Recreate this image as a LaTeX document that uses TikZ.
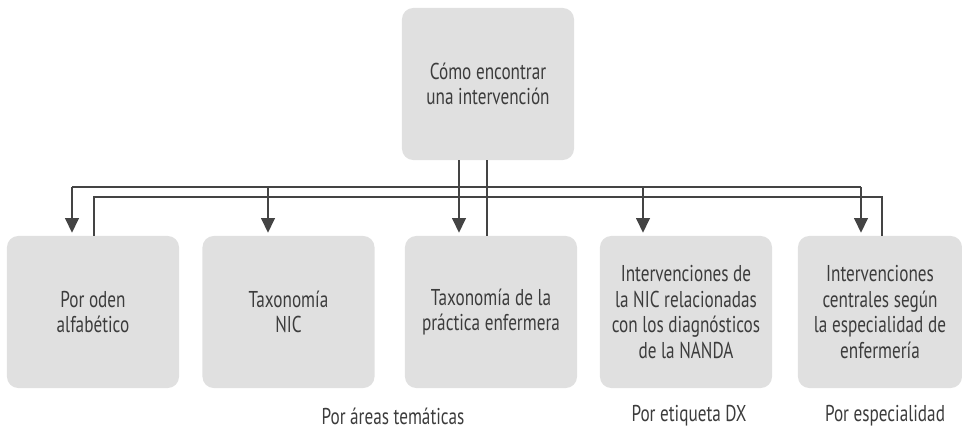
\documentclass[tikz,border=0pt]{standalone}
\usepackage{fontspec}
\setmainfont{PT Sans}[FakeStretch=0.75]
\definecolor{boxgrey}{RGB}{224, 224, 224}
\definecolor{linegrey}{RGB}{68, 68, 68}
\definecolor{textgrey}{RGB}{60, 60, 60}
\usetikzlibrary{arrows.meta, positioning, calc}

\begin{document}
\begin{tikzpicture}[x=0.025cm, y=-0.025cm,
    box/.style={fill=boxgrey, rounded corners=8pt, minimum width=4.3cm, minimum height=3.8cm, align=center, inner sep=2pt, font=\fontsize{16.3}{18.2}\selectfont, text=textgrey},
    tag/.style={font=\fontsize{16.3}{18.2}\selectfont, text=textgrey, inner sep=0pt},
    conn/.style={draw=linegrey, line width=1.85pt},
    arr/.style={-{Triangle[length=10.5pt, width=9.5pt]}, shorten >=2pt}]
  \useasboundingbox (0,0) rectangle (962,430);

  % top box
  \node[box] (top) at (488,84) {Cómo encontrar\\una intervención};

  % bottom row
  \node[box] (b1) at (93,312) {Por oden\\alfabético};
  \node[box] (b2) at (288.5,312) {Taxonomía\\NIC};
  \node[box] (b3) at (491,312) {Taxonomía de la\\práctica enfermera};
  \node[box] (b4) at (686,312) {Intervenciones de\\la NIC relacionadas\\con los diagnósticos\\de la NANDA};
  \node[box, minimum width=4.1cm] (b5) at (880,312) {Intervenciones\\centrales según\\la especialidad de\\enfermería};

  % labels below
  \node[tag] (lab2) at (393,416) {Por áreas temáticas};
  \node[tag] (lab4) at (689,416) {Por etiqueta DX};
  \node[tag] (lab5) at (885,416) {Por especialidad};

  % arrows down
  \foreach \n/\x in {1/72, 2/268, 3/459, 4/643, 5/861} {
    \coordinate (a\n) at (\x,187);
    \draw[conn, arr] (a\n) -- (a\n |- b\n.north);
  }
  \draw[conn] (a1) -- (a5);
  \draw[conn] (top.south -| a3) -- (a3);

  % plain lines back up
  \foreach \n/\x in {1/94, 3/487, 5/882}
    \coordinate (l\n) at (\x,197);
  \draw[conn] (l1 |- b1.north) -- (l1) -- (l5) -- (l5 |- b5.north);
  \draw[conn] (l3 |- b3.north) -- (top.south -| l3);
\end{tikzpicture}
\end{document}
